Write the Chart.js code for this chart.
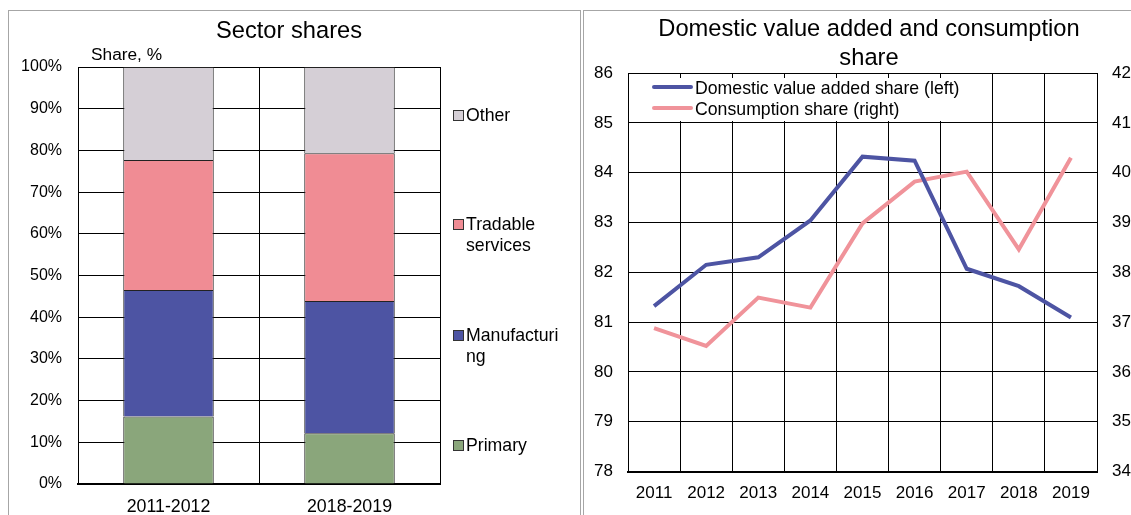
<!DOCTYPE html>
<html>
<head>
<meta charset="utf-8">
<script src="https://cdn.jsdelivr.net/npm/chart.js@4.4.1/dist/chart.umd.min.js"></script>
<style>
  html, body { margin:0; padding:0; background:#fff; overflow:hidden; width:1131px; height:515px; }
  body { position:relative; font-family:"Liberation Sans", Arial, sans-serif; color:#000; }
  .abs { position:absolute; }
  .title { position:absolute; font-size:23.7px; text-align:center; line-height:28.5px; white-space:nowrap; }
  .lg { position:absolute; font-size:17.7px; line-height:21px; white-space:nowrap; }
  .sq { display:inline-block; box-sizing:border-box; width:11px; height:11px; border:1px solid #333; margin-right:2px; vertical-align:0px; }
  .ln { display:inline-block; width:41px; height:4px; margin-right:2px; vertical-align:5px; border-radius:2px; }
</style>
</head>
<body>
<div class="abs" style="left:8px;top:10px;width:571px;height:520px;border:1.5px solid #a6a6a6;"></div>
<div class="abs" style="left:583px;top:10px;width:600px;height:520px;border:1.5px solid #a6a6a6;"></div>

<canvas id="c1" class="abs" style="left:0;top:0;" width="580" height="515"></canvas>
<canvas id="c2" class="abs" style="left:580px;top:0;" width="580" height="515"></canvas>

<div class="title" style="left:139px;width:300px;top:16px;">Sector shares</div>
<div class="abs" style="left:91px;top:44px;font-size:17.3px;line-height:21px;">Share, %</div>

<div class="lg" style="left:453px;top:105px;"><span class="sq" style="background:#D5CFD6"></span>Other</div>
<div class="lg" style="left:453px;top:214px;"><span class="sq" style="background:#F08C94"></span>Tradable<br><span style="padding-left:13px">services</span></div>
<div class="lg" style="left:453px;top:325px;"><span class="sq" style="background:#4D54A3"></span>Manufacturi<br><span style="padding-left:13px">ng</span></div>
<div class="lg" style="left:453px;top:435px;"><span class="sq" style="background:#8AA67B"></span>Primary</div>

<div class="title" style="left:619px;width:500px;top:14px;">Domestic value added and consumption<br>share</div>

<div class="abs" style="left:633px;top:78px;width:335px;height:43px;background:#fff;"></div>
<div class="lg" style="left:652px;top:78px;"><span class="ln" style="background:#4D54A3"></span>Domestic value added share (left)</div>
<div class="lg" style="left:652px;top:99px;"><span class="ln" style="background:#F0939A"></span>Consumption share (right)</div>

<script>
// ---- data: left chart ----
const periods = ['2011-2012', '2018-2019'];
const primary = [16.2, 12.2];
const manufacturing = [30.3, 31.7];
const tradableServices = [31.2, 35.4];
const other = [22.3, 20.7];

// ---- data: right chart ----
const years = ['2011', '2012', '2013', '2014', '2015', '2016', '2017', '2018', '2019'];
const domesticVA = [81.32, 82.15, 82.30, 83.04, 84.32, 84.24, 82.07, 81.72, 81.09];
const consumption = [36.88, 36.52, 37.49, 37.29, 38.98, 39.82, 40.02, 38.46, 40.30];

Chart.defaults.font.family = '"Liberation Sans", Arial, sans-serif';
Chart.defaults.font.size = 16;
Chart.defaults.color = '#000';

new Chart(document.getElementById('c1'), {
  type: 'bar',
  data: {
    labels: periods,
    datasets: [
      { label: 'Primary', data: primary, backgroundColor: '#8AA67B' },
      { label: 'Manufacturing', data: manufacturing, backgroundColor: '#4D54A3' },
      { label: 'Tradable services', data: tradableServices, backgroundColor: '#F08C94' },
      { label: 'Other', data: other, backgroundColor: '#D5CFD6' }
    ].map(d => Object.assign(d, { borderColor: '#222', borderWidth: 1, barPercentage: 0.5, categoryPercentage: 1.0 }))
  },
  options: {
    responsive: false, animation: false, devicePixelRatio: 1,
    layout: { padding: { left: 0, top: 67, right: 140, bottom: 0 } },
    plugins: { legend: { display: false }, tooltip: { enabled: false }, title: { display: false } },
    scales: {
      x: {
        stacked: true,
        grid: { color: '#000', lineWidth: 1, drawTicks: false, offset: true },
        border: { color: '#000', width: 2 },
        ticks: { padding: 12, font: { size: 17.8 } },
        afterFit: s => { s.height = 31; }
      },
      y: {
        stacked: true, min: 0, max: 100,
        grid: { color: '#000', lineWidth: 1, drawTicks: false },
        border: { color: '#000', width: 1 },
        ticks: { stepSize: 10, padding: 16, callback: v => v + '%' },
        afterFit: s => { s.width = 78; }
      }
    }
  }
});

new Chart(document.getElementById('c2'), {
  type: 'line',
  data: {
    labels: years,
    datasets: [
      { label: 'Domestic value added share (left)', data: domesticVA, borderColor: '#4D54A3', yAxisID: 'y' },
      { label: 'Consumption share (right)', data: consumption, borderColor: '#F0939A', yAxisID: 'y1' }
    ].map(d => Object.assign(d, { borderWidth: 4, pointRadius: 0, tension: 0, fill: false }))
  },
  options: {
    responsive: false, animation: false, devicePixelRatio: 1,
    layout: { padding: { left: 0, top: 73, right: 3, bottom: 0 } },
    plugins: { legend: { display: false }, tooltip: { enabled: false }, title: { display: false } },
    scales: {
      x: {
        offset: true,
        grid: { color: '#000', lineWidth: 1, drawTicks: false, offset: true },
        border: { color: '#000', width: 2 },
        ticks: { padding: 12, maxRotation: 0, autoSkip: false, font: { size: 17 } },
        afterFit: s => { s.height = 43.5; }
      },
      y: {
        position: 'left', min: 78, max: 86,
        grid: { color: '#000', lineWidth: 1, drawTicks: false },
        border: { color: '#000', width: 1 },
        ticks: { stepSize: 1, padding: 15, font: { size: 17 } },
        afterFit: s => { s.width = 48; }
      },
      y1: {
        position: 'right', min: 34, max: 42,
        grid: { drawOnChartArea: false, drawTicks: false },
        border: { color: '#000', width: 1 },
        ticks: { stepSize: 1, padding: 15, font: { size: 17 } },
        afterFit: s => { s.width = 60; }
      }
    }
  }
});
</script>
</body>
</html>
